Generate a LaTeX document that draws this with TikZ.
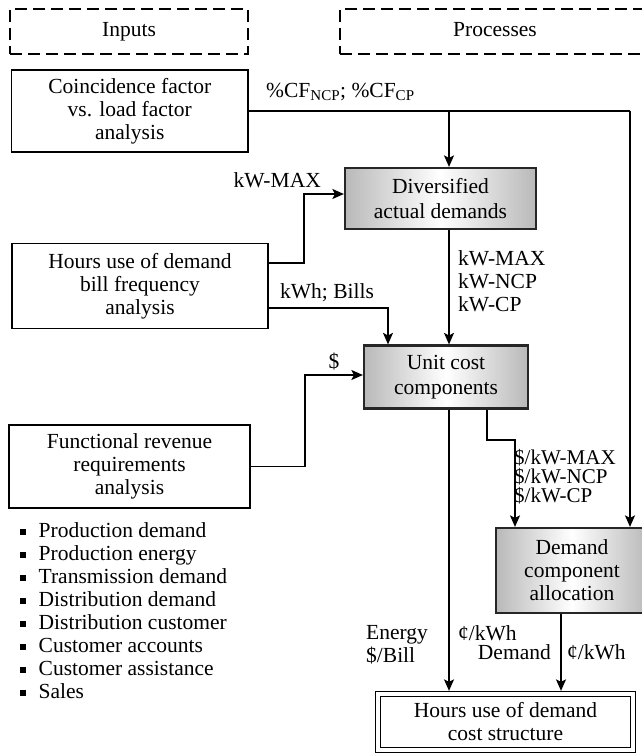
\documentclass[tikz,border=0pt]{standalone}
\usepackage{fontspec}
\setmainfont{Liberation Serif}
\usetikzlibrary{arrows.meta,calc}
\newcommand\sqb{\raisebox{3pt}{\rule{5.5pt}{5.5pt}}\hspace{13pt}}
\begin{document}
\begin{tikzpicture}[x=1pt,y=-1pt,
  font=\fontsize{21.5}{23}\selectfont,
  dashbox/.style={draw, line width=1.4pt, dash pattern=on 12pt off 6pt, inner sep=0pt, text height=14pt, text depth=5pt},
  plainbox/.style={draw, line width=1.2pt, align=center, inner sep=0pt},
  shadebox/.style={draw=black!85, line width=2.2pt, left color=gray!55, right color=gray!55, middle color=white, align=center, inner sep=0pt},
  finalbox/.style={draw, double, double distance=3.4pt, line width=1.1pt, align=center, inner sep=0pt},
  conn/.style={line width=1.3pt},
  arr/.style={line width=1.3pt, -{Stealth[length=11.5pt,width=10pt,inset=2.5pt]}},
  lbl/.style={inner sep=0pt}]
\useasboundingbox (0,0) rectangle (642,756);
\fill[white] (0,0) rectangle (642,756);

% headers
\node[dashbox, minimum width=238pt, minimum height=45pt] (inp) at (129,31.5) {Inputs};
\node[dashbox, minimum width=310pt, minimum height=45pt] (proc) at (495,31.5) {Processes};

% boxes
\node[plainbox, minimum width=236.5pt, minimum height=82pt] (coinc) at (129.75,111) {Coincidence factor\\vs. load factor\\analysis};
\node[shadebox, minimum width=191pt, minimum height=61pt, font=\fontsize{21.5}{25}\selectfont] (div) at (440.5,198.5) {Diversified\\actual demands};
\node[plainbox, minimum width=256pt, minimum height=85pt] (hours) at (140,286) {Hours use of demand\\bill frequency\\analysis};
\node[shadebox, minimum width=164pt, minimum height=63pt, font=\fontsize{21.5}{25}\selectfont] (unit) at (446,377) {Unit cost\\components};
\node[plainbox, minimum width=241pt, minimum height=83pt] (func) at (129.5,466.5) {Functional revenue\\requirements\\analysis};
\node[shadebox, minimum width=152pt, minimum height=85pt] (dca) at (572,570.5) {Demand\\component\\allocation};
\node[finalbox, minimum width=255pt, minimum height=56pt] (final) at (505.5,722) {Hours use of demand\\cost structure};

% coordinates
\coordinate (cfR) at (630,111);
\coordinate (cfB) at (449,111);

% connectors
\draw[conn] (coinc.east) -- (cfR);
\draw[arr] (cfR) -- (cfR |- dca.north);
\draw[arr] (cfB) -- (cfB |- div.north);
\draw[arr] (hours.east |- 0,263) -| (304,194) -- (div.west |- 0,194);
\draw[arr] (hours.east |- 0,308) -| (388,0 |- unit.north);
\draw[arr] (div.south -| cfB) -- (unit.north -| cfB);
\draw[arr] (func.east) -| (305,375) -- (unit.west |- 0,375);
\draw[arr, shorten >=2.6pt] (unit.south -| cfB) -- (final.north -| cfB);
\draw[arr] (unit.south -| 487,0) |- (515,440) -- (515,0 |- dca.north);
\draw[arr, shorten >=2.6pt] (dca.south -| 561,0) -- (final.north -| 561,0);

% labels
\node[lbl, anchor=west] (lcf) at (266,92) {\%CF\textsubscript{NCP}; \%CF\textsubscript{CP}};
\node[lbl, anchor=east] (lkw) at (321,180) {kW-MAX};
\node[lbl, anchor=west] (lkwh) at (280,293) {kWh; Bills};
\node[lbl, anchor=west, align=left] (lkws) at (458,281.5) {kW-MAX\\kW-NCP\\kW-CP};
\node[lbl] (ldol) at (334,362) {\$};
\node[lbl, anchor=west, align=left, font=\fontsize{21}{19}\selectfont] (lkwd) at (514,477) {\$/kW-MAX\\\$/kW-NCP\\\$/kW-CP};
\node[lbl, anchor=west, align=left] (len) at (366,644.5) {Energy\\\$/Bill};
\node[lbl, anchor=west] (lc1) at (458,633) {¢/kWh};
\node[lbl, anchor=east] (ldem) at (551,652) {Demand};
\node[lbl, anchor=west] (lc2) at (567,652) {¢/kWh};

% bullet list
\node[lbl, anchor=west, align=left] (list) at (20,611) {\sqb Production demand\\\sqb Production energy\\\sqb Transmission demand\\\sqb Distribution demand\\\sqb Distribution customer\\\sqb Customer accounts\\\sqb Customer assistance\\\sqb Sales};
\end{tikzpicture}
\end{document}
